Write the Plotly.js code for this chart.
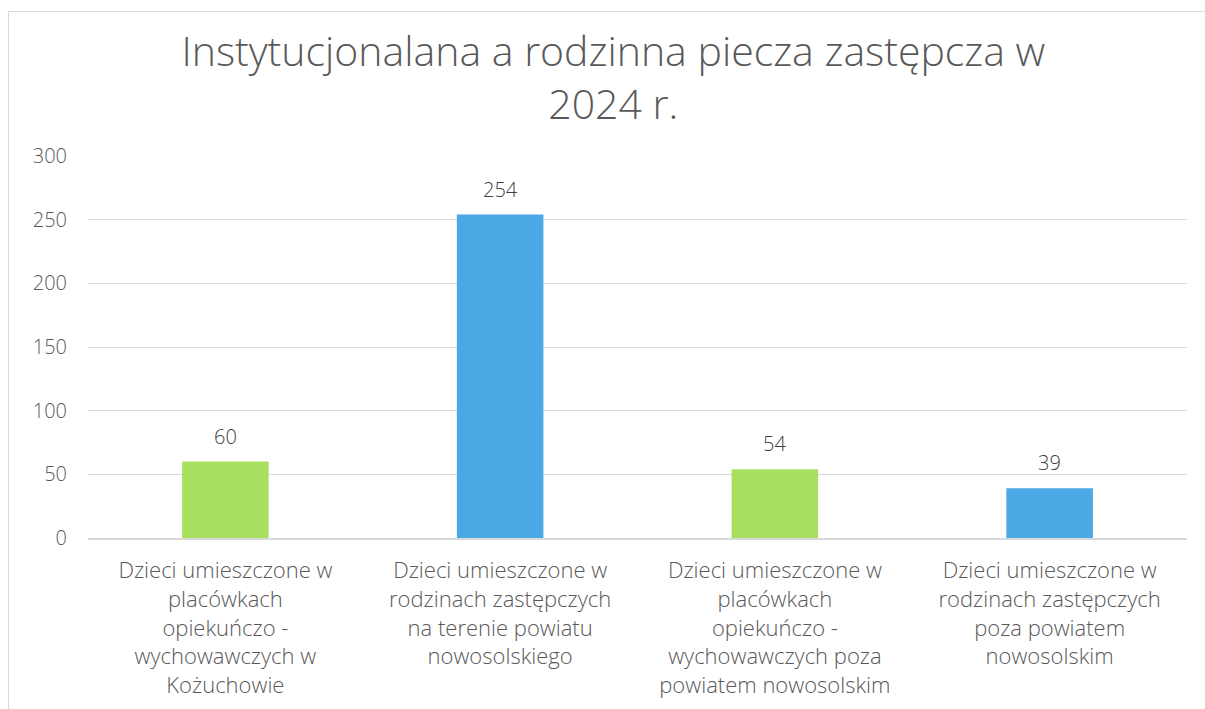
<!DOCTYPE html>
<html>
<head>
<meta charset="utf-8">
<script src="https://cdn.plot.ly/plotly-3.0.1.min.js"></script>
<style>
html,body{margin:0;padding:0;background:#fff;}
#wrap{position:relative;width:1205px;height:709px;}
#chart{position:absolute;left:0;top:0;width:1205px;height:709px;}
#frame{position:absolute;left:8px;top:11px;width:1220px;height:720px;border:1px solid #d9d9d9;pointer-events:none;}
</style>
</head>
<body>
<div id="wrap">
<div id="chart"></div>
<div id="frame"></div>
</div>
<script>
const categories = [
  "Dzieci umieszczone w<br>placówkach<br>opiekuńczo -<br>wychowawczych w<br>Kożuchowie",
  "Dzieci umieszczone w<br>rodzinach zastępczych<br>na terenie powiatu<br>nowosolskiego",
  "Dzieci umieszczone w<br>placówkach<br>opiekuńczo -<br>wychowawczych poza<br>powiatem nowosolskim",
  "Dzieci umieszczone w<br>rodzinach zastępczych<br>poza powiatem<br>nowosolskim"
];
const values = [60, 254, 54, 39];
const barColors = ["#a9df5e", "#4aa8e5", "#a9df5e", "#4aa8e5"];
const yTicks = [0, 50, 100, 150, 200, 250, 300];
const titleText = "Instytucjonalana a rodzinna piecza zastępcza w<br>2024 r.";

const FONT = "'Open Sans', Lato, sans-serif";
const TXT = "#595959";

const trace = {
  type: "bar",
  x: categories,
  y: values,
  marker: {color: barColors},
  hoverinfo: "none"
};

const labels = categories.map((c, i) => ({
  x: c, y: values[i], xref: "x", yref: "y",
  text: String(values[i]),
  showarrow: false, yanchor: "bottom", yshift: 10,
  font: {family: FONT, size: 20, color: "#404040", weight: 300}
}));

const layout = {
  width: 1205,
  height: 709,
  margin: {l: 88, r: 18, t: 156, b: 171},
  paper_bgcolor: "#ffffff",
  plot_bgcolor: "#ffffff",
  showlegend: false,
  bargap: 0.685,
  title: {
    text: titleText,
    font: {family: FONT, size: 41, color: TXT, weight: 300},
    x: 0.478, xref: "paper", xanchor: "center",
    y: 0.907, yref: "container", yanchor: "top"
  },
  annotations: labels,
  xaxis: {
    tickfont: {family: FONT, size: 22, color: TXT, weight: 300},
    showline: true, linecolor: "#d9d9d9", linewidth: 2,
    ticks: "", ticklabelstandoff: 12,
    showgrid: false, zeroline: false
  },
  yaxis: {
    range: [0, 300],
    tickvals: yTicks,
    ticktext: yTicks.map(String),
    tickfont: {family: FONT, size: 20, color: TXT, weight: 300},
    showgrid: true, gridcolor: "#d9d9d9", gridwidth: 1,
    zeroline: false, showline: false, ticks: "",
    ticklabelstandoff: 20
  }
};

Plotly.newPlot("chart", [trace], layout, {displayModeBar: false, staticPlot: true});
</script>
</body>
</html>
